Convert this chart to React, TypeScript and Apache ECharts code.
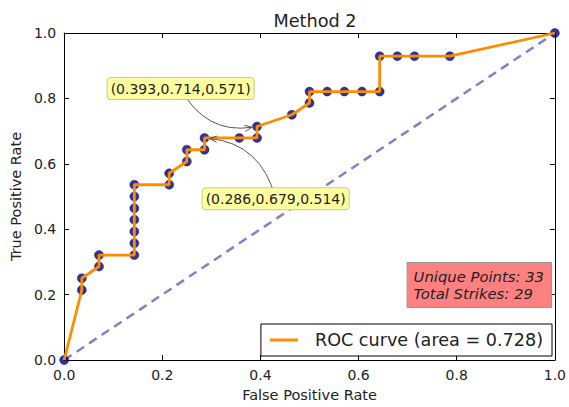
import React, { useEffect, useRef } from "react";
import * as echarts from "echarts";

const TITLE = "Method 2";
const AUC = 0.728;
const FPR = [0, 0.036, 0.036, 0.071, 0.071, 0.143, 0.143, 0.143, 0.143, 0.143, 0.143, 0.143,
  0.214, 0.214, 0.25, 0.25, 0.286, 0.286, 0.357, 0.393, 0.393, 0.464, 0.5, 0.5,
  0.536, 0.571, 0.607, 0.643, 0.643, 0.679, 0.714, 0.786, 1.0];
const TPR = [0, 0.214, 0.25, 0.286, 0.321, 0.321, 0.357, 0.393, 0.429, 0.464, 0.5, 0.536,
  0.536, 0.571, 0.607, 0.643, 0.643, 0.679, 0.679, 0.679, 0.714, 0.75, 0.786, 0.821,
  0.821, 0.821, 0.821, 0.821, 0.929, 0.929, 0.929, 0.929, 1.0];
const CHANCE_X = [0, 1];
const CHANCE_Y = [0, 1];
// annotations: target fpr, target tpr, threshold, text box fpr, text box tpr
const ANN_FPR = [0.393, 0.286];
const ANN_TPR = [0.714, 0.679];
const ANN_THR = [0.571, 0.514];
const ANN_TEXT_X = [0.2374, 0.431];
const ANN_TEXT_Y = [0.83, 0.493];
const UNIQUE_POINTS = 33;
const TOTAL_STRIKES = 29;
const TICKS = [0, 0.2, 0.4, 0.6, 0.8, 1.0];

const FONT = "DejaVu Sans";

export default function App() {
  const ref = useRef<HTMLDivElement>(null);
  useEffect(() => {
    const chart = echarts.init(ref.current!, null, { renderer: "svg" });
    const pts = FPR.map((x, i) => [x, TPR[i]]);
    const ann = ANN_FPR.map((x, i) => [x, ANN_TPR[i], ANN_TEXT_X[i], ANN_TEXT_Y[i], ANN_THR[i]]);
    const rocName = `ROC curve (area = ${AUC.toFixed(3)})`;
    const axisCommon = {
      type: "value",
      min: TICKS[0],
      max: TICKS[TICKS.length - 1],
      interval: 0.2,
      splitLine: { show: false },
      axisLine: { show: true, onZero: false, lineStyle: { color: "#000", width: 1 } },
      axisTick: { show: true, inside: true, length: 5, lineStyle: { color: "#000" } },
    };
    const labelStyle = {
      fontFamily: FONT,
      fontSize: 14,
      color: "#222",
      formatter: (v: number) => v.toFixed(1),
    };
    const option: any = {
      animation: false,
      title: {
        text: TITLE,
        left: 310,
        top: 7,
        textAlign: "center",
        textStyle: { fontFamily: FONT, fontSize: 17.7, fontWeight: "normal", color: "#222" },
      },
      grid: { left: 62, right: 10, top: 33, bottom: 44 },
      legend: {
        right: 17,
        bottom: 51,
        orient: "vertical",
        backgroundColor: "#fff",
        borderColor: "#000",
        borderWidth: 1,
        borderRadius: 0,
        padding: [7, 9, 7, 9],
        itemWidth: 28,
        itemHeight: 3,
        data: [{ name: rocName, icon: "rect" }],
        textStyle: { fontFamily: FONT, fontSize: 17.6, color: "#222", padding: [0, 0, 0, 12] },
      },
      xAxis: [
        {
          ...axisCommon,
          position: "bottom",
          name: "False Positive Rate",
          nameLocation: "middle",
          nameGap: 27,
          nameTextStyle: { fontFamily: FONT, fontSize: 14.5, color: "#222" },
          axisLabel: { ...labelStyle, margin: 8 },
        },
        { ...axisCommon, position: "top", axisLabel: { show: false } },
      ],
      yAxis: [
        {
          ...axisCommon,
          position: "left",
          name: "True Positive Rate",
          nameLocation: "middle",
          nameGap: 38,
          nameTextStyle: { fontFamily: FONT, fontSize: 14.5, color: "#222" },
          axisLabel: { ...labelStyle, margin: 8 },
        },
        { ...axisCommon, position: "right", axisLabel: { show: false } },
      ],
      series: [
        {
          type: "line",
          name: "chance",
          data: CHANCE_X.map((x, i) => [x, CHANCE_Y[i]]),
          symbol: "none",
          lineStyle: { color: "#8080cc", width: 2.5, type: [9, 6] },
          z: 1,
          silent: true,
        },
        {
          type: "scatter",
          name: "points",
          data: pts,
          symbolSize: 9,
          itemStyle: { color: "#000080", borderColor: "#000040", borderWidth: 0.5 },
          z: 2,
        },
        {
          type: "line",
          name: rocName,
          data: pts,
          symbol: "none",
          color: "#ff8c00",
          itemStyle: { color: "#ff8c00" },
          lineStyle: { color: "#ff8c00", width: 2.8 },
          z: 3,
        },
        {
          type: "custom",
          name: "annotations",
          data: ann,
          clip: false,
          z: 5,
          encode: { x: [0, 2], y: [1, 3] },
          renderItem: (params: any, api: any) => {
            const p = api.coord([api.value(0), api.value(1)]);
            const t = api.coord([api.value(2), api.value(3)]);
            const label = `(${api.value(0).toFixed(3)},${api.value(1).toFixed(3)},${api.value(4).toFixed(3)})`;
            const dx = p[0] - t[0];
            const dy = p[1] - t[1];
            const rad = 0.35;
            const mx = (p[0] + t[0]) / 2;
            const my = (p[1] + t[1]) / 2;
            const cx = mx - rad * dy;
            const cy = my + rad * dx;
            let ex = p[0] - cx;
            let ey = p[1] - cy;
            const el = Math.hypot(ex, ey);
            ex /= el;
            ey /= el;
            const tipX = p[0] - ex * 5;
            const tipY = p[1] - ey * 5;
            const hl = 8;
            const ang = 0.4;
            const rot = (a: number) => [
              tipX - hl * (ex * Math.cos(a) - ey * Math.sin(a)),
              tipY - hl * (ex * Math.sin(a) + ey * Math.cos(a)),
            ];
            return {
              type: "group",
              children: [
                {
                  type: "bezierCurve",
                  shape: { x1: t[0], y1: t[1], x2: tipX, y2: tipY, cpx1: cx, cpy1: cy },
                  style: { stroke: "#555", fill: "none", lineWidth: 1 },
                },
                {
                  type: "polyline",
                  shape: { points: [rot(ang), [tipX, tipY], rot(-ang)] },
                  style: { stroke: "#555", fill: "none", lineWidth: 1 },
                },
                {
                  type: "text",
                  x: t[0],
                  y: t[1],
                  style: {
                    text: label,
                    font: `14px "${FONT}"`,
                    fill: "#222",
                    align: "center",
                    verticalAlign: "middle",
                    backgroundColor: "#ffffa0",
                    borderColor: "#c8c890",
                    borderWidth: 1,
                    borderRadius: 3,
                    padding: [4, 3, 3, 3],
                  },
                },
              ],
            };
          },
        },
      ],
      graphic: [
        {
          type: "text",
          right: 17,
          top: 262,
          z: 10,
          style: {
            text: `Unique Points: ${UNIQUE_POINTS}\nTotal Strikes: ${TOTAL_STRIKES}`,
            font: `italic 14.8px "${FONT}"`,
            lineHeight: 17,
            fill: "#222",
            backgroundColor: "#ff8080",
            borderColor: "#999",
            borderWidth: 1,
            padding: [5, 7, 5, 6],
          },
        },
      ],
    };
    chart.setOption(option);
    return () => chart.dispose();
  }, []);
  return <div ref={ref} style={{ width: 569, height: 407, position: "absolute", left: 0, top: 0 }} />;
}
